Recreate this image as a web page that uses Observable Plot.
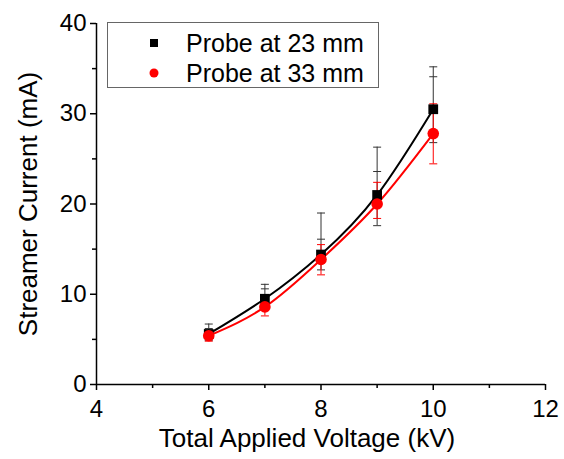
<!DOCTYPE html>
<html>
<head>
<meta charset="utf-8">
<script src="https://cdn.jsdelivr.net/npm/d3@7"></script>
<script src="https://cdn.jsdelivr.net/npm/@observablehq/plot@0.6"></script>
<style>
  html, body { margin: 0; padding: 0; background: #fff; }
  #wrap { position: relative; width: 564px; height: 459px; font-family: "Liberation Sans", Arial, sans-serif; }
  #legend { position: absolute; left: 107px; top: 22px; width: 272px; height: 66px; border: 1px solid #666; background: #fff; box-sizing: border-box; }
  .row { position: absolute; left: 0; height: 30px; display: flex; align-items: center; font-size: 25px; color: #000; }
  .row svg { margin-left: 41px; margin-right: 27px; }
</style>
</head>
<body>
<div id="wrap"></div>
<script>
// ---- data ----
const voltage   = [6, 7, 8, 9, 10];                 // kV
const current23 = [5.6, 9.5, 14.4, 21.0, 30.5];     // mA, probe at 23 mm
const current33 = [5.4, 8.6, 13.85, 20.0, 27.8];    // mA, probe at 33 mm
const err23Hi   = [6.7, 11.1, 19.0, 26.3, 35.2];
const err23Hi2  = [6.2, 10.6, 16.1, 23.6, 34.1];
const err23Lo   = [4.9, 8.3, 12.7, 17.6, 26.8];
const err33Hi   = [5.9, 9.7, 15.5, 22.4, 31.1];
const err33Lo   = [4.8, 7.6, 12.15, 18.4, 24.45];
const xTicks = [4, 6, 8, 10, 12];
const xMinor = [5, 7, 9, 11];
const yTicks = [0, 10, 20, 30, 40];
const yMinor = [5, 15, 25, 35];
const seriesNames = ["Probe at 23 mm", "Probe at 33 mm"];
const xTitle = "Total Applied Voltage (kV)";
const yTitle = "Streamer Current (mA)";

const data = voltage.map((v, i) => ({
  v, c23: current23[i], c33: current33[i],
  h23: err23Hi[i], h23b: err23Hi2[i], l23: err23Lo[i],
  h33: err33Hi[i], l33: err33Lo[i]
}));

const cap = { draw(ctx, size) { const r = Math.sqrt(size / Math.PI); ctx.moveTo(-r, 0); ctx.lineTo(r, 0); } };
const black = "#000", red = "#ff0000", barBlack = "#333";

const chart = Plot.plot({
  width: 564, height: 459,
  marginLeft: 96, marginRight: 19, marginTop: 23, marginBottom: 75,
  style: { fontFamily: "Liberation Sans, Arial, sans-serif", fontSize: "24px", color: "#000", background: "#fff" },
  x: { domain: [4, 12] },
  y: { domain: [0, 40] },
  marks: [
    Plot.axisX({ ticks: xTicks, tickSize: 6, tickPadding: 9, strokeWidth: 1.5, label: null, fontSize: 24 }),
    Plot.axisX({ ticks: xMinor, tickSize: 4, strokeWidth: 1.5, text: null, label: null }),
    Plot.axisY({ ticks: yTicks, tickSize: 6, tickPadding: 4, strokeWidth: 1.5, label: null, fontSize: 24 }),
    Plot.axisY({ ticks: yMinor, tickSize: 4, strokeWidth: 1.5, text: null, label: null }),
    Plot.text([xTitle], { frameAnchor: "bottom", dx: -14, dy: 54, fontSize: 26, lineAnchor: "middle", textAnchor: "middle" }),
    Plot.text([yTitle], { frameAnchor: "left", dx: -68, rotate: -90, fontSize: 26, lineAnchor: "middle", textAnchor: "middle" }),
    Plot.ruleY([0], { stroke: black, strokeWidth: 1.5 }),
    Plot.ruleX([4], { stroke: black, strokeWidth: 1.5 }),
    // error bars
    Plot.ruleX(data, { x: "v", y1: "l23", y2: "h23", stroke: barBlack, strokeWidth: 1 }),
    Plot.dot(data, { x: "v", y: "h23", symbol: cap, r: 4, stroke: barBlack, strokeWidth: 1 }),
    Plot.dot(data, { x: "v", y: "h23b", symbol: cap, r: 4, stroke: barBlack, strokeWidth: 1 }),
    Plot.dot(data, { x: "v", y: "l23", symbol: cap, r: 4, stroke: barBlack, strokeWidth: 1 }),
    Plot.ruleX(data, { x: "v", y1: "l33", y2: "h33", stroke: red, strokeWidth: 1 }),
    Plot.dot(data, { x: "v", y: "h33", symbol: cap, r: 4, stroke: red, strokeWidth: 1 }),
    Plot.dot(data, { x: "v", y: "l33", symbol: cap, r: 4, stroke: red, strokeWidth: 1 }),
    // fitted curves
    Plot.line(data, { x: "v", y: "c23", stroke: black, strokeWidth: 2, curve: "natural" }),
    Plot.line(data, { x: "v", y: "c33", stroke: red, strokeWidth: 2, curve: "natural" }),
    // points
    Plot.dot(data, { x: "v", y: "c23", symbol: "square", r: 5.5, fill: black, stroke: "none" }),
    Plot.dot(data, { x: "v", y: "c33", symbol: "circle", r: 5.8, fill: red, stroke: "none" })
  ]
});

const wrap = document.getElementById("wrap");
wrap.appendChild(chart);

// legend
const legend = document.createElement("div");
legend.id = "legend";
const syms = [
  '<svg width="10" height="10"><rect x="1" y="1" width="8" height="8" fill="#000"/></svg>',
  '<svg width="10" height="10"><circle cx="5" cy="5" r="4.5" fill="#ff0000"/></svg>'
];
seriesNames.forEach((name, i) => {
  const row = document.createElement("div");
  row.className = "row";
  row.style.top = (5 + i * 30) + "px";
  row.innerHTML = syms[i] + "<span>" + name + "</span>";
  legend.appendChild(row);
});
wrap.appendChild(legend);
</script>
</body>
</html>
